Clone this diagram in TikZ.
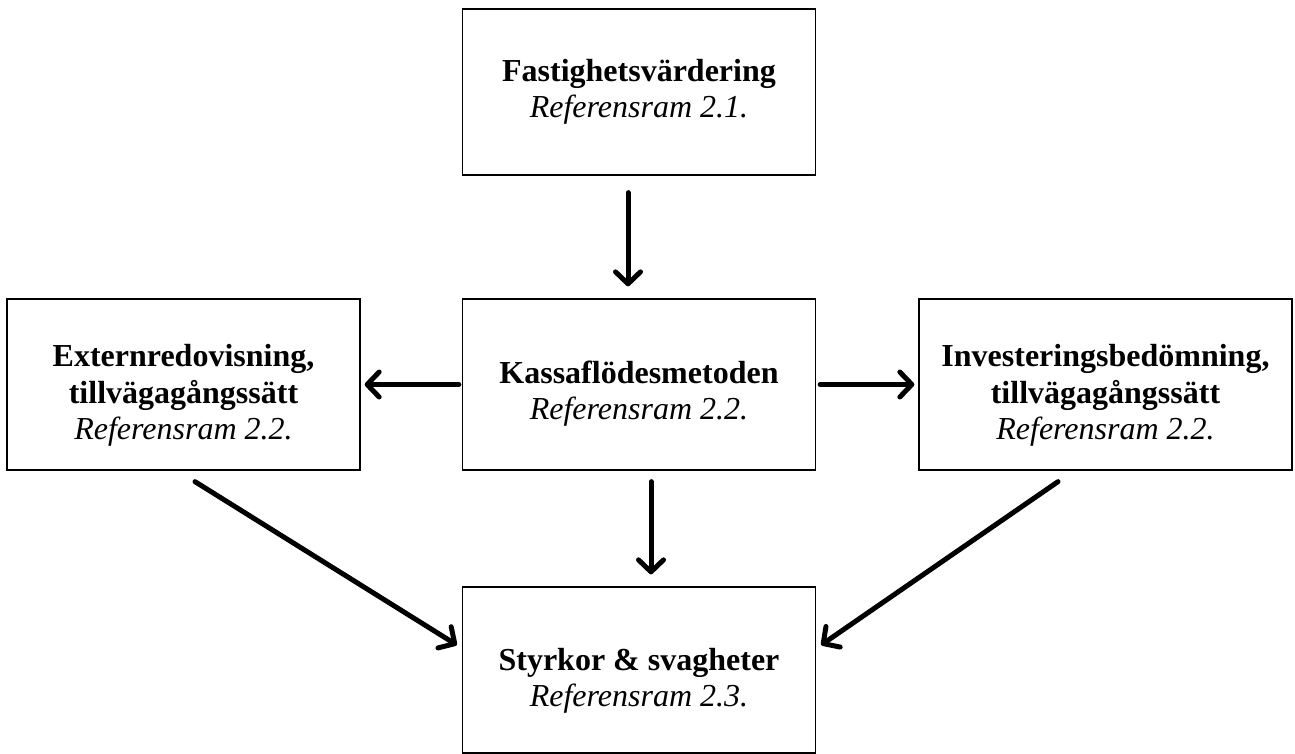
\documentclass[tikz,border=0pt]{standalone}
\usepackage{fontspec}
\setmainfont{Liberation Serif}
\usetikzlibrary{arrows.meta}
\begin{document}
\begin{tikzpicture}[x=1pt,y=-1pt,
  box/.style={draw=black, line width=1.3pt, fill=white, inner sep=0pt},
  txt/.style={align=center, inner sep=0pt, font=\fontsize{32}{36.5}\selectfont},
  arr/.style={line width=5pt, line cap=round,
    -{Straight Barb[length=12pt,width=25pt,line cap=round,line join=round]}}]
\useasboundingbox (0,0) rectangle (1295,754);
\node[box, minimum width=353pt, minimum height=166pt] (top) at (639,92) {};
\node[box, minimum width=353pt, minimum height=171pt] (left) at (183.5,384.5) {};
\node[box, minimum width=353pt, minimum height=171pt] (mid) at (639,384.5) {};
\node[box, minimum width=373pt, minimum height=171pt] (right) at (1105.5,384.5) {};
\node[box, minimum width=353pt, minimum height=166pt] (bot) at (639,670) {};
\node[txt] (topt) at ([yshift=0pt]top.center)
  {\textbf{Fastighetsvärdering}\\\textit{Referensram 2.1.}};
\node[txt] (leftt) at ([yshift=-11pt]left.center)
  {\textbf{Externredovisning,}\\\textbf{tillvägagångssätt}\\\textit{Referensram 2.2.}};
\node[txt] (midt) at ([yshift=-9pt]mid.center)
  {\textbf{Kassaflödesmetoden}\\\textit{Referensram 2.2.}};
\node[txt] (rightt) at ([yshift=-11pt]right.center)
  {\textbf{Investeringsbedömning,}\\\textbf{tillvägagångssätt}\\\textit{Referensram 2.2.}};
\node[txt] (bott) at ([yshift=-11pt]bot.center)
  {\textbf{Styrkor \& svagheter}\\\textit{Referensram 2.3.}};
\draw[arr] ([xshift=-11pt,yshift=-17pt]top.south) -- ([xshift=-11pt,yshift=12pt]mid.north);
\draw[arr] ([xshift=-3pt]mid.west) -- ([xshift=4pt]left.east);
\draw[arr] ([xshift=4pt]mid.east) -- ([xshift=-4pt]right.west);
\draw[arr] ([xshift=12pt,yshift=-11pt]mid.south) -- ([xshift=12pt,yshift=12pt]bot.north);
\draw[arr] ([xshift=11.5pt,yshift=-11pt]left.south) -- ([xshift=-5pt,yshift=25pt]bot.west);
\draw[arr] ([xshift=-47.5pt,yshift=-11pt]right.south) -- ([xshift=5pt,yshift=25pt]bot.east);
\end{tikzpicture}
\end{document}
